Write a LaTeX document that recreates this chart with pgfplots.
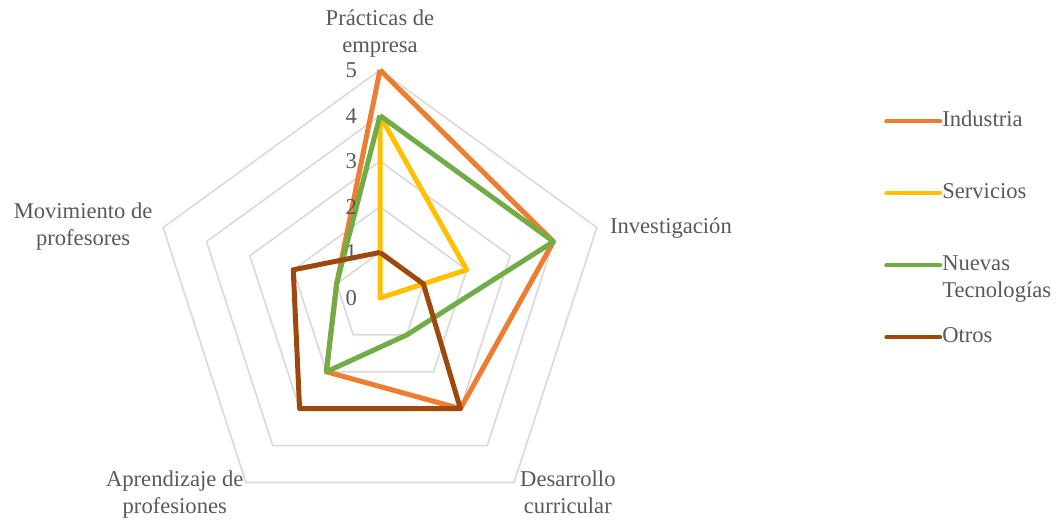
\documentclass[border=0pt]{standalone}
\usepackage{fontspec}
\setmainfont{Liberation Serif}
\usepackage{pgfplots}
\pgfplotsset{compat=1.18}
\definecolor{cInd}{HTML}{ED7D31}
\definecolor{cSer}{HTML}{FFC000}
\definecolor{cNue}{HTML}{70AD47}
\definecolor{cOtr}{HTML}{9E480E}
\definecolor{gridgray}{HTML}{D9D9D9}
\definecolor{txtgray}{HTML}{595959}

\pgfplotsset{
  radar/.style={data cs=polar, line width=2.5pt, line join=round, mark=none},
  ring/.style={data cs=polar, draw=gridgray, line width=0.8pt, mark=none, forget plot},
}

\begin{document}
\begin{tikzpicture}[font=\fontsize{11.3pt}{13.5pt}\selectfont, every node/.append style={text=txtgray}]
\begin{axis}[
  name=radarax,
  width=530.5pt, height=260pt, scale only axis,
  xmin=-8.333, xmax=14.934, ymin=-4.868, ymax=6.535,
  hide axis, clip=false,
  legend cell align=left,
  legend style={draw=none, fill=none, at={(axis cs:11.05,4.10)}, anchor=north west,
    row sep=26pt, inner sep=0pt,
    nodes={inner sep=0pt, text height=7.5pt, text depth=2.5pt, text=txtgray,
      font=\fontsize{11.3pt}{13.5pt}\selectfont}},
  legend image code/.code={\draw[#1, line width=2pt, line cap=round] (0pt,0pt) -- (27pt,0pt);},
]
% grid rings, levels 1 to 5
\addplot[ring] coordinates {(90,1) (18,1) (-54,1) (-126,1) (162,1) (90,1)};
\addplot[ring] coordinates {(90,2) (18,2) (-54,2) (-126,2) (162,2) (90,2)};
\addplot[ring] coordinates {(90,3) (18,3) (-54,3) (-126,3) (162,3) (90,3)};
\addplot[ring] coordinates {(90,4) (18,4) (-54,4) (-126,4) (162,4) (90,4)};
\addplot[ring] coordinates {(90,5) (18,5) (-54,5) (-126,5) (162,5) (90,5)};

% series: Practicas, Investigacion, Desarrollo, Aprendizaje, Movimiento
\addplot[radar, cInd] coordinates {(90,5) (18,4) (-54,3) (-126,2) (162,1) (90,5)};
\addlegendentry{Industria}
\addplot[radar, cSer] coordinates {(90,4) (18,2) (-54,0) (-126,0) (162,0) (90,4)};
\addlegendentry{Servicios}
\addplot[radar, cNue] coordinates {(90,4) (18,4) (-54,1) (-126,2) (162,1) (90,4)};
\addlegendentry{\parbox[t]{60pt}{Nuevas\\Tecnologías}}
\addplot[radar, cOtr] coordinates {(90,1) (18,1) (-54,3) (-126,3) (162,2) (90,1)};
\addlegendentry{Otros}

% radial tick labels
\foreach \k in {0,...,5} {
  \edef\tmp{\noexpand\node at (axis cs:-0.63,\k) {\k};}\tmp
}

% category labels
\node[align=center, anchor=south] at (axis cs:0,5.13) {Prácticas de\\empresa};
\node[anchor=west] at (axis cs:4.89,1.54) {Investigación};
\node[align=center, anchor=north] at (axis cs:4.12,-3.64) {Desarrollo\\curricular};
\node[align=center, anchor=north] at (axis cs:-4.50,-3.64) {Aprendizaje de\\profesiones};
\node[align=center, anchor=north] at (axis cs:-6.51,2.25) {Movimiento de\\profesores};
\end{axis}
\pgfresetboundingbox
\path[use as bounding box] (radarax.south west) rectangle (radarax.north east);
\end{tikzpicture}
\end{document}
